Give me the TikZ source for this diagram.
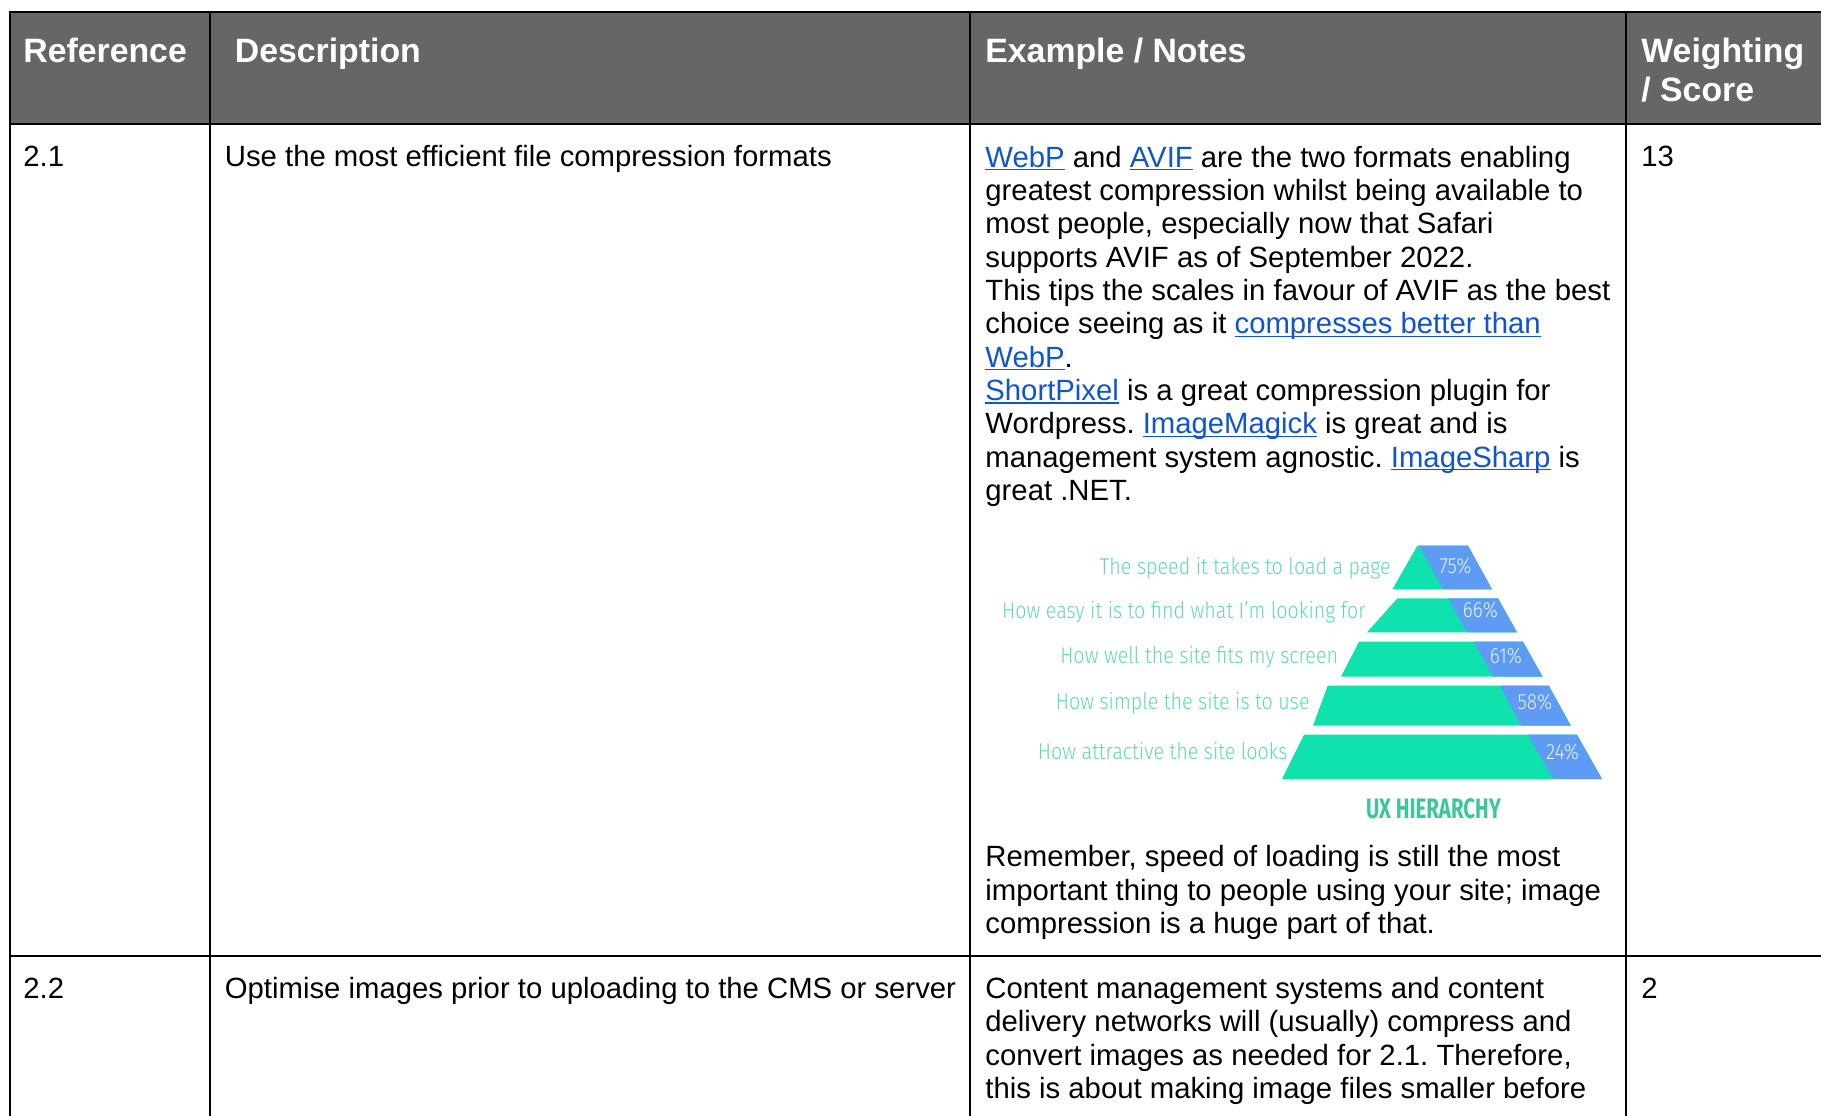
\documentclass[tikz,border=0pt]{standalone}
\usepackage{fontspec}
\usepackage{graphicx}
\setmainfont{Liberation Sans}
\newfontfamily\pyrfont{Fira Sans Light}
\newfontfamily\pyrhead{Fira Sans}
\frenchspacing

\definecolor{hdrgray}{HTML}{666666}
\definecolor{linkblue}{HTML}{1155CC}
\definecolor{pygreen}{HTML}{10E2AE}
\definecolor{pyblue}{HTML}{5E9BF5}
\definecolor{pylabel}{HTML}{62D8B2}
\definecolor{pypct}{HTML}{EAF1FF}
\definecolor{pytitle}{HTML}{3CC6A0}

% underlined hyperlink text
\newcommand\lnk[1]{\setbox0=\hbox{#1}{\color{linkblue}\rlap{\rule[-1.6pt]{\wd0}{0.7pt}}#1}}
% horizontally condensed text for the chart
\newcommand\narrow[1]{\scalebox{0.865}[1]{#1}}

\tikzset{
  grid/.style={line width=1pt, draw=black},
  txt/.style={anchor=base west, inner sep=0pt, text=black,
    font=\fontsize{14.65pt}{16.85pt}\selectfont},
  hdr/.style={anchor=base west, inner sep=0pt, text=white,
    font=\fontsize{16.9pt}{19.4pt}\selectfont\bfseries},
  plabel/.style={anchor=base east, inner sep=0pt, text=pylabel,
    font=\pyrfont\fontsize{11.4pt}{13pt}\selectfont},
  ppct/.style={anchor=base, inner sep=0pt, text=pypct,
    font=\pyrfont\fontsize{11pt}{13pt}\selectfont},
}

\begin{document}
\begin{tikzpicture}[x=0.5pt,y=-0.5pt]
\useasboundingbox (0,0) rectangle (1821,1115);
\clip (0,0) rectangle (1821,1115);
\fill[white] (0,0) rectangle (1821,1115);

% header band
\fill[hdrgray] (10.3,12) rectangle (1830,123.5);

% table rules
\draw[grid] (1830,12) -- (10.3,12) -- (10.3,1130);
\draw[grid] (10.3,123.5) -- (1830,123.5);
\draw[grid] (10.3,956) -- (1830,956);
\draw[grid] (210,12) -- (210,1130);
\draw[grid] (970,12) -- (970,1130);
\draw[grid] (1626,12) -- (1626,1130);

% header texts
\node[hdr] (hRef) at (23,62.7) {Reference};
\node[hdr] (hDesc) at (234.5,62.7) {Description};
\node[hdr] (hEx) at (985,62.7) {Example / Notes};
\node[hdr] (hW1) at (1641,62.7) {Weighting};
\node[hdr] (hW2) at (1641,101) {/ Score};

% row 2.1
\node[txt] (r1ref) at (23,166.7) {2.1};
\node[txt] (r1desc) at (224.5,166.7) {Use the most efficient file compression formats};
\node[txt] (r1score) at (1641,166.7) {13};

\node[txt] (e1) at (985,167) {\lnk{WebP} and \lnk{AVIF} are the two formats enabling};
\node[txt] (e2) at (985,200.35) {greatest compression whilst being available to};
\node[txt] (e3) at (985,233.7) {most people, especially now that Safari};
\node[txt] (e4) at (985,267.05) {supports AVIF as of September 2022.};
\node[txt] (e5) at (985,300.4) {This tips the scales in favour of AVIF as the best};
\node[txt] (e6) at (985,333.75) {choice seeing as it \lnk{compresses better than}};
\node[txt] (e7) at (985,367.1) {\lnk{WebP}.};
\node[txt] (e8) at (985,400.45) {\lnk{ShortPixel} is a great compression plugin for};
\node[txt] (e9) at (985,433.8) {Wordpress. \lnk{ImageMagick} is great and is};
\node[txt] (e10) at (985,467.15) {management system agnostic. \lnk{ImageSharp} is};
\node[txt] (e11) at (985,500.5) {great .NET.};

% UX hierarchy pyramid
\fill[pygreen] (1417.3,545.7) -- (1468,545.7) -- (1492,589.3) -- (1392.4,589.3) -- cycle;
\fill[pyblue]  (1419,545.7) -- (1468,545.7) -- (1492,589.3) -- (1443,589.3) -- cycle;
\fill[pygreen] (1397.4,598.3) -- (1498,598.3) -- (1517,632.3) -- (1367,632.3) -- cycle;
\fill[pyblue]  (1448.4,598.3) -- (1498,598.3) -- (1517,632.3) -- (1466.7,632.3) -- cycle;
\fill[pygreen] (1359,641.7) -- (1523,641.7) -- (1542.6,676.7) -- (1341,676.7) -- cycle;
\fill[pyblue]  (1474,641.7) -- (1523,641.7) -- (1542.6,676.7) -- (1493,676.7) -- cycle;
\fill[pygreen] (1327.7,685.7) -- (1548.8,685.7) -- (1570.8,725.7) -- (1313,725.7) -- cycle;
\fill[pyblue]  (1500,685.7) -- (1548.8,685.7) -- (1570.8,725.7) -- (1521,725.7) -- cycle;
\fill[pygreen] (1304,734.7) -- (1577,734.7) -- (1602,779) -- (1282,779) -- cycle;
\fill[pyblue]  (1528,734.7) -- (1577,734.7) -- (1602,779) -- (1553,779) -- cycle;

\node[plabel] (l1) at (1391,574) {\narrow{The speed it takes to load a page}};
\node[plabel] (l2) at (1366,618.3) {\narrow{How easy it is to find what I’m looking for}};
\node[plabel] (l3) at (1338.5,663.3) {\narrow{How well the site fits my screen}};
\node[plabel] (l4) at (1310,709) {\narrow{How simple the site is to use}};
\node[plabel] (l5) at (1288,759) {\narrow{How attractive the site looks}};

\node[ppct] (p1) at (1455.5,573) {\narrow{75\%}};
\node[ppct] (p2) at (1480.5,617.7) {\narrow{66\%}};
\node[ppct] (p3) at (1506,663) {\narrow{61\%}};
\node[ppct] (p4) at (1535,709) {\narrow{58\%}};
\node[ppct] (p5) at (1562.5,759) {\narrow{24\%}};

\node[anchor=base, inner sep=0pt, text=pytitle] (uxt) at (1433.5,818.3)
  {\resizebox{67.5pt}{10pt}{\pyrhead\bfseries UX HIERARCHY}};

\node[txt] (m1) at (985,866.7) {Remember, speed of loading is still the most};
\node[txt] (m2) at (985,900) {important thing to people using your site; image};
\node[txt] (m3) at (985,933.3) {compression is a huge part of that.};

% row 2.2
\node[txt] (r2ref) at (23,998.3) {2.2};
\node[txt] (r2desc) at (224.5,998.3) {Optimise images prior to uploading to the CMS or server};
\node[txt] (r2score) at (1641,998.3) {2};
\node[txt] (c1) at (985,998.3) {Content management systems and content};
\node[txt] (c2) at (985,1031.6) {delivery networks will (usually) compress and};
\node[txt] (c3) at (985,1065) {convert images as needed for 2.1. Therefore,};
\node[txt] (c4) at (985,1098.3) {this is about making image files smaller before};
\end{tikzpicture}
\end{document}
